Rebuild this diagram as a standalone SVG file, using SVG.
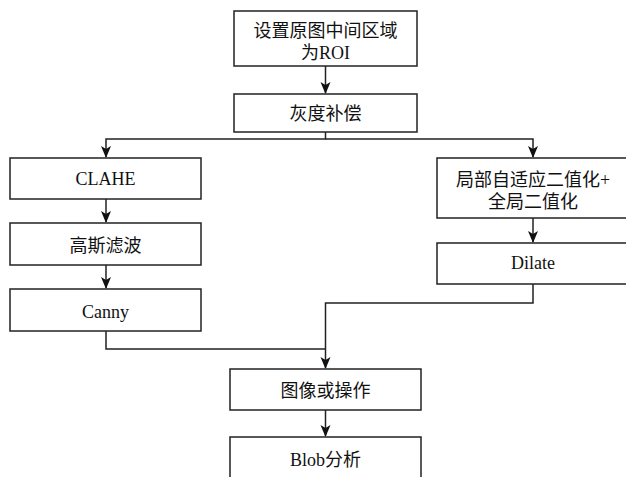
<svg xmlns="http://www.w3.org/2000/svg" width="626" height="477" viewBox="0 0 626 477">
<style>
.box{fill:#fff;stroke:#222;stroke-width:1.5}
.t{font-family:"Liberation Serif","Noto Sans CJK SC",serif;font-size:18px;fill:#111;text-anchor:middle}
.c{fill:none;stroke:#222;stroke-width:1.5}
</style>
<defs>
<marker id="ah" markerWidth="12" markerHeight="12" refX="11" refY="5" orient="auto" markerUnits="userSpaceOnUse" viewBox="0 0 12 10">
<path d="M0,0 L12,5 L0,10 L3,5 z" fill="#111"/>
</marker>
</defs>
<rect width="626" height="477" fill="#fff"/>
<g id="connectors">
<line class="c" x1="325.5" y1="66" x2="325.5" y2="93" marker-end="url(#ah)"/>
<polyline class="c" points="325.5,132 325.5,139 106,139 106,157" marker-end="url(#ah)"/>
<polyline class="c" points="325.5,139 533,139 533,157" marker-end="url(#ah)"/>
<line class="c" x1="106" y1="199" x2="106" y2="222" marker-end="url(#ah)"/>
<line class="c" x1="106" y1="265" x2="106" y2="288" marker-end="url(#ah)"/>
<line class="c" x1="533" y1="218" x2="533" y2="242" marker-end="url(#ah)"/>
<polyline class="c" points="106,331 106,349 325.5,349"/>
<polyline class="c" points="533,284 533,303 325.5,303 325.5,368" marker-end="url(#ah)"/>
<line class="c" x1="325.5" y1="410" x2="325.5" y2="436" marker-end="url(#ah)"/>
</g>
<g id="roi">
<rect class="box" x="234" y="11" width="183" height="55"/>
<text class="t" x="325.5" y="37">设置原图中间区域</text>
<text class="t" x="325.5" y="59">为ROI</text>
</g>
<g id="gray">
<rect class="box" x="234" y="94" width="183" height="38"/>
<text class="t" x="325.5" y="120">灰度补偿</text>
</g>
<g id="clahe">
<rect class="box" x="10" y="158" width="191" height="41"/>
<text class="t" x="105.5" y="185">CLAHE</text>
</g>
<g id="gauss">
<rect class="box" x="10" y="223" width="191" height="42"/>
<text class="t" x="105.5" y="252">高斯滤波</text>
</g>
<g id="canny">
<rect class="box" x="10" y="289" width="191" height="42"/>
<text class="t" x="105.5" y="318">Canny</text>
</g>
<g id="binar">
<rect class="box" x="437" y="158" width="192" height="60"/>
<text class="t" x="533" y="186">局部自适应二值化+</text>
<text class="t" x="533" y="208">全局二值化</text>
</g>
<g id="dilate">
<rect class="box" x="437" y="243" width="192" height="41"/>
<text class="t" x="533" y="269">Dilate</text>
</g>
<g id="or">
<rect class="box" x="230" y="369" width="191" height="41"/>
<text class="t" x="325.5" y="397">图像或操作</text>
</g>
<g id="blob">
<rect class="box" x="230" y="437" width="191" height="45"/>
<text class="t" x="325.5" y="466">Blob分析</text>
</g>
</svg>
